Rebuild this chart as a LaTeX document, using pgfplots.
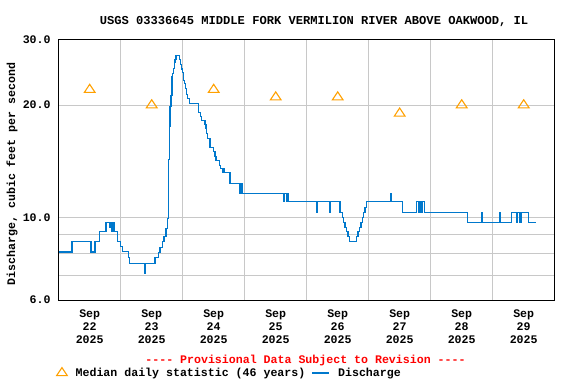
\documentclass[border=0pt]{standalone}
\usepackage{pgfplots}
\pgfplotsset{compat=1.18}
\usepackage{pgfplotstable}
\usepackage{fontspec}
\setmonofont{Liberation Mono}
\definecolor{qblue}{RGB}{0,120,204}
\definecolor{qorange}{RGB}{255,160,0}
\definecolor{qgrid}{RGB}{200,200,200}

\pgfplotstableread{
d v
0.000 8.07
0.215 8.61
0.521 8.07
0.585 8.61
0.655 9.16
0.752 9.71
0.768 9.16
0.776 9.71
0.816 9.40
0.827 9.71
0.852 9.16
0.863 9.71
0.892 9.16
0.945 8.61
1.000 8.34
1.032 8.09
1.123 7.80
1.139 7.53
1.392 7.08
1.402 7.53
1.553 7.80
1.606 8.05
1.634 8.30
1.677 8.61
1.698 8.88
1.731 9.35
1.758 9.95
1.768 14.3
1.784 17.5
1.795 19.85
1.811 21.2
1.827 23.9
1.839 24.3
1.855 25.1
1.865 26.1
1.876 26.5
1.892 27.2
1.945 26.5
1.961 25.7
1.977 25.0
1.994 24.4
2.010 23.3
2.026 22.9
2.042 22.2
2.065 21.3
2.077 20.8
2.106 20.2
2.252 19.1
2.290 18.6
2.300 18.2
2.360 17.7
2.376 17.3
2.387 16.8
2.403 16.3
2.440 15.4
2.494 15.0
2.521 14.6
2.537 14.2
2.590 13.8
2.613 13.5
2.645 13.2
2.658 13.5
2.669 13.2
2.763 12.3
2.924 11.6
2.935 12.3
2.948 11.6
2.956 12.3
2.965 11.6
3.623 11.0
3.639 11.6
3.674 11.0
3.685 11.6
3.698 11.0
4.161 10.3
4.171 11.0
4.376 10.3
4.387 11.0
4.537 10.3
4.574 10.0
4.597 9.71
4.618 9.40
4.639 9.16
4.666 8.88
4.694 8.61
4.806 8.88
4.827 9.16
4.848 9.40
4.876 9.71
4.897 10.0
4.919 10.3
4.940 10.6
4.968 11.0
5.360 11.6
5.371 11.0
5.548 10.3
5.774 11.0
5.803 10.3
5.811 11.0
5.827 10.3
5.839 11.0
5.855 10.3
5.868 11.0
5.895 10.3
6.597 9.71
6.823 10.3
6.832 9.71
7.116 10.3
7.126 9.71
7.306 10.3
7.387 9.71
7.403 10.3
7.440 9.71
7.456 10.3
7.574 9.71
7.694 9.71
}\discharge

\pgfplotstableread{
d v
0.5 22
1.5 20
2.5 22
3.5 21
4.5 21
5.5 19
6.5 20
7.5 20
}\median

\begin{document}
\ttfamily\bfseries\fontsize{11.6}{13}\selectfont
\begin{tikzpicture}
\useasboundingbox (-58.7pt,-84pt) rectangle (517.3pt,300pt);
\begin{axis}[
  scale only axis, width=496pt, height=260.5pt,
  at={(0pt,0pt)}, anchor=south west,
  xmin=0, xmax=8, ymode=log, ymin=6, ymax=30,
  xtick={0.5,1.5,2.5,3.5,4.5,5.5,6.5,7.5},
  xticklabels={{Sep\\22\\2025},{Sep\\23\\2025},{Sep\\24\\2025},{Sep\\25\\2025},{Sep\\26\\2025},{Sep\\27\\2025},{Sep\\28\\2025},{Sep\\29\\2025}},
  xticklabel style={align=center, yshift=-6pt, font=\ttfamily\bfseries\fontsize{11.6}{13}\selectfont},
  minor xtick={1,2,3,4,5,6,7}, xminorgrids,
  ytick={6,7,8,9,10,20,30}, yticklabels={6.0,,,,10.0,20.0,30.0},
  yticklabel style={xshift=-4pt, font=\ttfamily\bfseries\fontsize{11.6}{13}\selectfont},
  ymajorgrids,
  grid style={draw=qgrid, line width=0.9pt},
  minor grid style={draw=qgrid, line width=0.9pt},
  major tick length=0pt, minor tick length=0pt,
  axis line style={line width=1pt},
  legend columns=2,
  legend style={draw=none, fill=none, at={(rel axis cs:0,0)}, anchor=west, xshift=-5.3pt, yshift=-73pt,
    font=\ttfamily\bfseries\fontsize{11.6}{13}\selectfont,
    /tikz/every odd column/.append style={column sep=6.3pt},
    /tikz/every even column/.append style={column sep=4.3pt}},
]
\addplot[only marks, mark=triangle, mark size=6.2pt, draw=qorange,
  mark options={yscale=0.87, line width=1.1pt, fill=none}] table[x=d, y=v] {\median};
\addlegendentry{Median daily statistic (46 years)}
\addplot[const plot, color=qblue, line width=1.1pt] table[x=d, y=v] {\discharge};
\addlegendentry{Discharge}
\end{axis}
\node[font=\ttfamily\bfseries\fontsize{12.1}{13}\selectfont] at (255.3pt,278pt) {USGS 03336645 MIDDLE FORK VERMILION RIVER ABOVE OAKWOOD, IL};
\node[text=red] at (246.8pt,-60pt) {---- Provisional Data Subject to Revision ----};
\node[rotate=90] at (-46.7pt,126pt) {Discharge, cubic feet per second};
\end{tikzpicture}
\end{document}
